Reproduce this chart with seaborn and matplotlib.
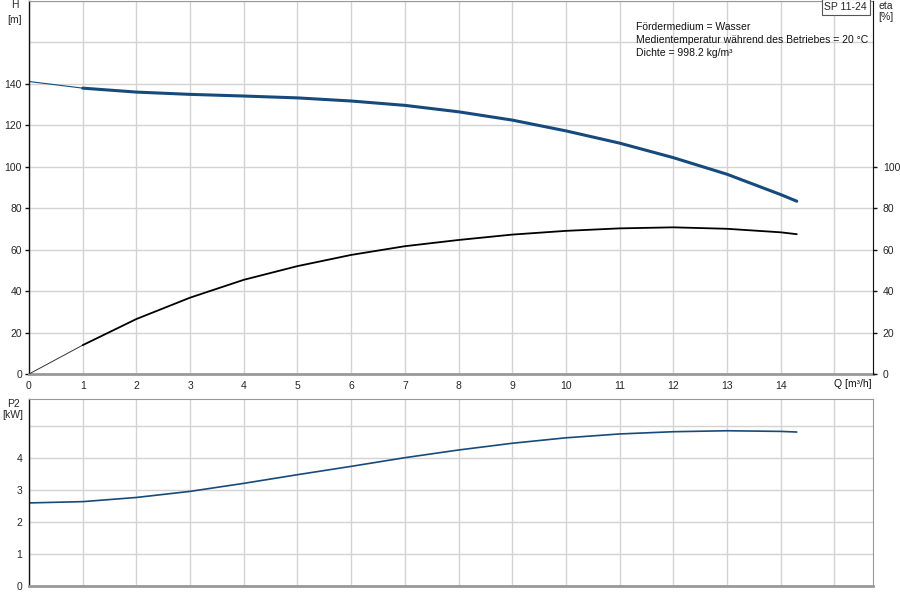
import matplotlib
matplotlib.use("Agg")
import matplotlib.pyplot as plt
import pandas as pd
import seaborn as sns

# Pump curve data (SP 11-24)
q = [0, 1, 2, 3, 4, 5, 6, 7, 8, 9, 10, 11, 12, 13, 14, 14.3]
head = [141, 137.8, 135.9, 134.8, 134.0, 133.1, 131.6, 129.5, 126.4, 122.4,
        117.2, 111.3, 104.3, 96.3, 86.5, 83.3]
eta = [0, 13.9, 26.5, 36.8, 45.4, 52.0, 57.4, 61.6, 64.6, 67.2,
       69.0, 70.2, 70.7, 70.0, 68.3, 67.4]
p2 = [2.59, 2.63, 2.76, 2.95, 3.20, 3.47, 3.73, 4.00, 4.24, 4.45,
      4.62, 4.74, 4.81, 4.84, 4.82, 4.80]

x_ticks = list(range(0, 16))
h_ticks = [0, 20, 40, 60, 80, 100, 120, 140]
h_grid_extra = [160, 180]
eta_ticks = [0, 20, 40, 60, 80, 100]
p2_ticks = [0, 1, 2, 3, 4, 5]
p2_labels = ["0", "1", "2", "3", "4", ""]

info = ["Fördermedium = Wasser",
        "Medientemperatur während des Betriebes = 20 °C",
        "Dichte = 998.2 kg/m³"]

df = pd.DataFrame({"Q": q, "H": head, "eta": eta, "P2": p2})
first = df.iloc[:2]
rest = df.iloc[1:]

sns.set_style("white")
plt.rcParams["font.family"] = ["Liberation Sans", "DejaVu Sans"]
plt.rcParams["font.size"] = 7.5

blue = "#174a7c"
grid_c = "#d3d3d3"
fs = 7.5

fig = plt.figure(figsize=(9, 6), dpi=100)
ax = fig.add_axes([29 / 900, 1 - 374 / 600, (873 - 29) / 900, 374 / 600 - 0.001])
ax2 = fig.add_axes([29 / 900, 1 - 586 / 600, (873 - 29) / 900, (586 - 399) / 600])
axr = ax.twinx()


def style_axes(a):
    a.set_xlim(0, 15.72)
    a.set_xticks(x_ticks)
    a.grid(True, color=grid_c, linewidth=1)
    a.set_axisbelow(True)
    a.spines["left"].set_color("#111111")
    a.spines["left"].set_linewidth(1)
    a.spines["top"].set_color("#999999")
    a.spines["right"].set_color("#999999")
    a.spines["bottom"].set_color("#999999")
    a.spines["bottom"].set_linewidth(2)
    a.tick_params(axis="y", length=3, width=1, color="#111111", pad=2, labelsize=fs)
    a.set_xlabel("")
    a.set_ylabel("")


# Top chart: head and efficiency
sns.lineplot(data=first, x="Q", y="H", ax=ax, color=blue, linewidth=0.8)
sns.lineplot(data=rest, x="Q", y="H", ax=ax, color=blue, linewidth=2.2)
sns.lineplot(data=first, x="Q", y="eta", ax=axr, color="#333333", linewidth=0.7)
sns.lineplot(data=rest, x="Q", y="eta", ax=axr, color="black", linewidth=1.3)

style_axes(ax)
ax.set_ylim(0, 180)
ax.set_yticks(h_ticks)
for v in h_grid_extra:
    ax.axhline(v, color=grid_c, linewidth=1, zorder=0)
ax.tick_params(axis="x", length=3, width=1, color="#111111", pad=2, labelsize=fs)
ax.set_xticklabels([str(t) for t in x_ticks[:-1]] + [""])
ax.text(15, -2.6, "Q [m³/h]", ha="left", va="top", fontsize=fs, color="#111111")

axr.set_ylim(0, 180)
axr.set_yticks(eta_ticks)
axr.set_xlabel("")
axr.set_ylabel("")
axr.spines["right"].set_color("#111111")
axr.spines["left"].set_visible(False)
axr.spines["top"].set_visible(False)
axr.spines["bottom"].set_visible(False)
axr.tick_params(axis="y", length=3, width=1, color="#111111", pad=4, labelsize=fs)

fig.text(14.5 / 900, 1 - 5 / 600, "H", ha="center", va="center", fontsize=fs)
fig.text(14.5 / 900, 1 - 20 / 600, "[m]", ha="center", va="center", fontsize=fs)
fig.text(886 / 900, 1 - 6 / 600, "eta", ha="center", va="center", fontsize=fs)
fig.text(886 / 900, 1 - 17 / 600, "[%]", ha="center", va="center", fontsize=fs)

ax.text(0.993, 0.996, "SP 11-24", transform=ax.transAxes, ha="right", va="top",
        fontsize=fs, bbox=dict(boxstyle="square,pad=0.25", fc="white", ec="#555555", lw=0.8))
for i, line in enumerate(info):
    ax.text(0.7195, 0.928 - i * 0.0335, line, transform=ax.transAxes,
            ha="left", va="center", fontsize=fs, color="#111111")

# Bottom chart: shaft power
sns.lineplot(data=df, x="Q", y="P2", ax=ax2, color=blue, linewidth=1.2)
style_axes(ax2)
ax2.set_ylim(0, 5.83)
ax2.set_yticks(p2_ticks)
ax2.set_yticklabels(p2_labels)
ax2.tick_params(axis="x", length=0, labelbottom=False)
fig.text(13 / 900, 1 - 404 / 600, "P2", ha="center", va="center", fontsize=fs)
fig.text(13 / 900, 1 - 415 / 600, "[kW]", ha="center", va="center", fontsize=fs)

fig.savefig("out.png", dpi=100)
